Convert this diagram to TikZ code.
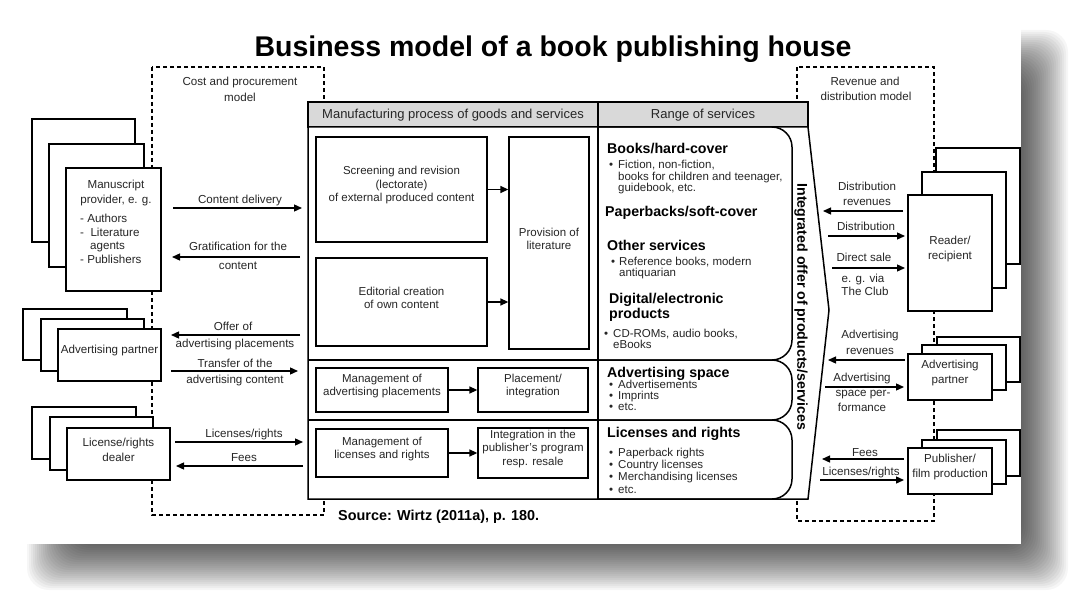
\documentclass[tikz,border=0pt]{standalone}
\usepackage{fontspec}
\setmainfont{Liberation Sans}
\usetikzlibrary{arrows.meta,fit}
\definecolor{hdr}{HTML}{D9D9D9}
\definecolor{txt}{HTML}{262626}
\newcommand\lbfont{\fontsize{11.6}{15}\selectfont}
\newcommand\bxfont{\fontsize{11.5}{13.5}\selectfont}
\newcommand\hdfont{\fontsize{14.2}{16}\selectfont\bfseries}
\newcommand\btfont{\fontsize{11.5}{12}\selectfont}
\begin{document}
\begin{tikzpicture}[x=1pt,y=-1pt,
  dashbox/.style={line width=1.3pt, dash pattern=on 4pt off 3pt},
  tbl/.style={line width=1.5pt},
  bx/.style={draw, line width=1.3pt, fill=white, inner sep=0pt, align=center, font=\bxfont, text=txt},
  stk/.style={draw, line width=1.3pt, fill=white, inner sep=0pt, align=center, font=\lbfont, text=txt},
  lab/.style={inner sep=0pt, align=center, font=\lbfont, text=txt, anchor=base},
  labw/.style={inner sep=0pt, font=\lbfont, text=txt, anchor=base west},
  arr/.style={line width=1.3pt, -{Triangle[length=8pt,width=7pt]}},
  hd/.style={font=\hdfont, anchor=base west, inner sep=0pt},
  bt/.style={font=\btfont, anchor=base west, inner sep=0pt, text=txt}]
\useasboundingbox (0,0) rectangle (1075,596);
\fill[white] (0,0) rectangle (1075,596);
% shadow
\foreach \k in {1,...,25}{
  \fill[black,opacity=0.035,rounded corners=22] ({25+2*\k},{28+2*\k}) rectangle ({1070-2*\k},{592-2*\k});
}
\fill[white] (23,21) rectangle (1021,544);

% title
\node[font=\fontsize{28.5}{30}\selectfont\bfseries, anchor=base, inner sep=0pt] (title) at (553,57) {Business model of a book publishing house};

% dashed model boxes
\draw[dashbox] (152,67) rectangle (324,515);
\draw[dashbox] (797,67) rectangle (934,521);
\node[lab] (costl) at (240,86) {Cost and procurement};
\node[lab] (costm) at (240,102) {model};
\node[lab] (revl) at (865,86) {Revenue and};
\node[lab] (revm) at (866,101) {distribution model};

% main table
\draw[tbl, fill=hdr] (308,102) rectangle (808,127);
\draw[tbl] (598,102) -- (598,127);
\draw[tbl, fill=white] (308,127) -- (308,499) -- (808,499) -- (829,310) -- (808,127) -- cycle;
\draw[tbl] (598,127) -- (598,499);
\node[font=\fontsize{13}{14}\selectfont, text=txt] (hman) at (453,115) {Manufacturing process of goods and services};
\node[font=\fontsize{13}{14}\selectfont, text=txt] (hran) at (703,115) {Range of services};
% right sections
\draw[tbl, rounded corners=20] (598,127) -- (792,127) -- (792,360) -- (598,360);
\draw[tbl, rounded corners=20] (598,360) -- (792,360) -- (792,420) -- (598,420);
\draw[tbl, rounded corners=20] (598,420) -- (792,420) -- (792,499) -- (598,499);
\draw[tbl] (308,360) -- (598,360);
\draw[tbl] (308,420) -- (598,420);
\node[rotate=-90, font=\fontsize{14.2}{16}\selectfont\bfseries, inner sep=0pt] (integ) at (801,307) {Integrated offer of products/services};

% manufacturing boxes
\node[bx, fit={(316,137) (487,242)}] (scr) {Screening and revision\\(lectorate)\\of external produced content};
\node[bx, fit={(316,258) (487,346)}] (edi) {Editorial creation\\of own content};
\node[bx, fit={(509,137) (589,349)}] (prov) {Provision of\\literature};
\node[bx, fit={(316,368) (448,412)}] (mad) {Management of\\advertising placements};
\node[bx, fit={(478,368) (588,412)}] (pla) {Placement/\\integration};
\node[bx, fit={(316,429) (448,477)}] (mli) {Management of\\licenses and rights};
\node[bx, fit={(478,428) (588,478)}] (int) {Integration in the\\publisher's program\\resp. resale};
\draw[arr] (scr.east) -- (scr.east -| prov.west);
\draw[arr] (edi.east) -- (edi.east -| prov.west);
\draw[arr] (mad.east) -- (pla.west);
\draw[arr] (mli.east) -- (mli.east -| int.west);

% range of services texts
\node[hd] (h1) at (607,154) {Books/hard-cover};
\node[bt] (b1a) at (609,169) {\textbullet};
\node[bt] (b1) at (618,169) {Fiction, non-fiction,};
\node[bt] (b1b) at (618,180) {books for children and teenager,};
\node[bt] (b1c) at (618,191) {guidebook, etc.};
\node[hd] (h2) at (605,216) {Paperbacks/soft-cover};
\node[hd] (h3) at (607,250) {Other services};
\node[bt] (b3a) at (611,265) {\textbullet};
\node[bt] (b3) at (619,265) {Reference books, modern};
\node[bt] (b3b) at (619,276) {antiquarian};
\node[hd] (h4) at (609,303) {Digital/electronic};
\node[hd] (h4b) at (609,318) {products};
\node[bt] (b4a) at (604,337) {\textbullet};
\node[bt] (b4) at (613,337) {CD-ROMs, audio books,};
\node[bt] (b4b) at (613,348) {eBooks};
\node[hd] (h5) at (607,377) {Advertising space};
\node[bt] (b5a) at (609,388) {\textbullet};
\node[bt] (b5) at (618,388) {Advertisements};
\node[bt] (b5b) at (609,399) {\textbullet};
\node[bt] (b5c) at (618,399) {Imprints};
\node[bt] (b5d) at (609,410) {\textbullet};
\node[bt] (b5e) at (618,410) {etc.};
\node[hd] (h6) at (607,437) {Licenses and rights};
\node[bt] (b6a) at (609,456) {\textbullet};
\node[bt] (b6) at (618,456) {Paperback rights};
\node[bt] (b6b) at (609,468) {\textbullet};
\node[bt] (b6c) at (618,468) {Country licenses};
\node[bt] (b6d) at (609,480) {\textbullet};
\node[bt] (b6e) at (618,480) {Merchandising licenses};
\node[bt] (b6f) at (609,493) {\textbullet};
\node[bt] (b6g) at (618,493) {etc.};

% source
\node[font=\fontsize{14.4}{16}\selectfont\bfseries, anchor=base west, inner sep=0pt] (src) at (338,520) {Source: Wirtz (2011a), p. 180.};

% left stacks
\node[stk, fit={(32,119) (135,242)}] (ms3) {};
\node[stk, fit={(49,144) (144,267)}] (ms2) {};
\node[stk, fit={(66,168) (161,291)}] (ms1) {};
\node[lab] (ms1a) at (116,188) {Manuscript};
\node[lab] (ms1b) at (116,204) {provider, e. g.};
\node[labw] (ms1c) at (80,222) {- Authors};
\node[labw] (ms1d) at (80,236) {-\ \ Literature};
\node[labw] (ms1e) at (90,249) {agents};
\node[labw] (ms1f) at (80,263) {- Publishers};

\node[stk, fit={(23,309) (127,360)}] (ap3) {};
\node[stk, fit={(41,319) (144,371)}] (ap2) {};
\node[stk, fit={(58,329) (161,381)}] (ap1) {Advertising partner};

\node[stk, fit={(32,407) (136,459)}] (ld3) {};
\node[stk, fit={(50,417) (153,470)}] (ld2) {};
\node[stk, fit={(67,428) (170,480)}] (ld1) {License/rights\\dealer};

% right stacks
\node[stk, fit={(936,148) (1020,264)}] (rd3) {};
\node[stk, fit={(922,172) (1006,288)}] (rd2) {};
\node[stk, fit={(908,195) (992,311)}] (rd1) {Reader/\\recipient};

\node[stk, fit={(937,337) (1020,382)}] (rp3) {};
\node[stk, fit={(922,345) (1006,390)}] (rp2) {};
\node[stk, fit={(908,354) (992,400)}] (rp1) {Advertising\\partner};

\node[stk, fit={(937,430) (1020,476)}] (pf3) {};
\node[stk, fit={(922,440) (1006,484)}] (pf2) {};
\node[stk, fit={(908,448) (992,494)}] (pf1) {Publisher/\\film production};

% left arrows
\coordinate (a1s) at (173,208); \coordinate (a1e) at (302,208);
\coordinate (a2s) at (300,257); \coordinate (a2e) at (172,257);
\coordinate (a3s) at (300,335); \coordinate (a3e) at (171,335);
\coordinate (a4s) at (171,371); \coordinate (a4e) at (298,371);
\coordinate (a5s) at (175,442); \coordinate (a5e) at (303,442);
\coordinate (a6s) at (303,466); \coordinate (a6e) at (176,466);
\draw[arr] (a1s) -- (a1e);
\draw[arr] (a2s) -- (a2e);
\draw[arr] (a3s) -- (a3e);
\draw[arr] (a4s) -- (a4e);
\draw[arr] (a5s) -- (a5e);
\draw[arr] (a6s) -- (a6e);
\node[lab] (l1) at (240,203) {Content delivery};
\node[lab] (l2) at (238,250) {Gratification for the};
\node[lab] (l2b) at (238,269) {content};
\node[lab] (l3) at (233,330) {Offer of};
\node[lab] (l3b) at (235,347) {advertising placements};
\node[lab] (l4) at (235,367) {Transfer of the};
\node[lab] (l4b) at (235,383) {advertising content};
\node[lab] (l5) at (244,437) {Licenses/rights};
\node[lab] (l6) at (244,461) {Fees};

% right arrows
\coordinate (r1s) at (903,211); \coordinate (r1e) at (823,211);
\coordinate (r2s) at (828,236); \coordinate (r2e) at (905,236);
\coordinate (r3s) at (832,268); \coordinate (r3e) at (905,268);
\coordinate (r4s) at (905,360); \coordinate (r4e) at (828,360);
\coordinate (r5s) at (825,387); \coordinate (r5e) at (904,387);
\coordinate (r6s) at (904,459); \coordinate (r6e) at (822,459);
\coordinate (r7s) at (820,480); \coordinate (r7e) at (904,480);
\draw[arr] (r1s) -- (r1e);
\draw[arr] (r2s) -- (r2e);
\draw[arr] (r3s) -- (r3e);
\draw[arr] (r4s) -- (r4e);
\draw[arr] (r5s) -- (r5e);
\draw[arr] (r6s) -- (r6e);
\draw[arr] (r7s) -- (r7e);
\node[lab] (q1) at (867,190) {Distribution};
\node[lab] (q1b) at (867,205) {revenues};
\node[lab] (q2) at (866,230) {Distribution};
\node[lab] (q3) at (864,261) {Direct sale};
\node[lab] (q3b) at (863,282) {e. g. via};
\node[lab] (q3c) at (865,295) {The Club};
\node[lab] (q4) at (870,338) {Advertising};
\node[lab] (q4b) at (870,354) {revenues};
\node[lab] (q5) at (862,381) {Advertising};
\node[lab] (q5b) at (863,396) {space per-};
\node[lab] (q5c) at (862,411) {formance};
\node[lab] (q6) at (865,456) {Fees};
\node[lab] (q7) at (861,475) {Licenses/rights};
\end{tikzpicture}
\end{document}
